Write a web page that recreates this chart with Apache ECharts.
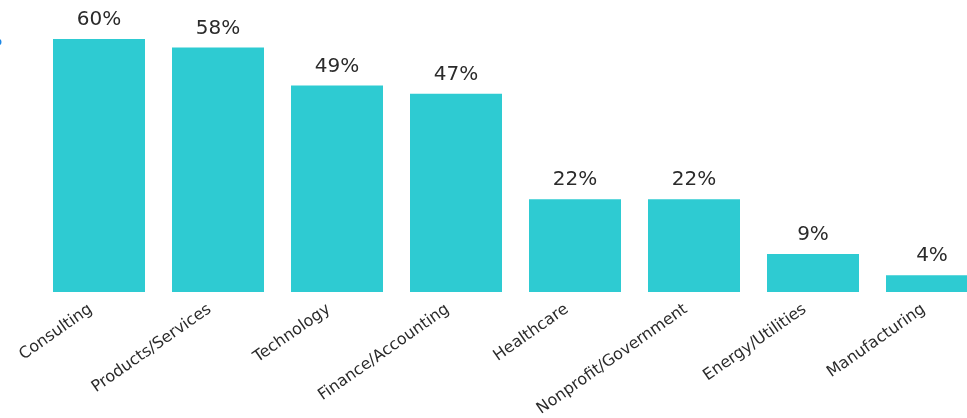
<!DOCTYPE html>
<html>
<head>
<meta charset="utf-8">
<script src="https://cdn.jsdelivr.net/npm/echarts@6/dist/echarts.min.js"></script>
<style>html,body{margin:0;padding:0;background:#fff;}#c{width:967px;height:418px;}</style>
</head>
<body>
<div id="c"></div>
<script>
const categories = ['Consulting','Products/Services','Technology','Finance/Accounting','Healthcare','Nonprofit/Government','Energy/Utilities','Manufacturing'];
const values = [60, 58, 49, 47, 22, 22, 9, 4];

const chart = echarts.init(document.getElementById('c'), null, {renderer:'canvas'});
chart.setOption({
  animation: false,
  grid: { left: 39.5, width: 952, top: 39, bottom: 126, containLabel: false, outerBoundsMode: 'none' },
  xAxis: {
    type: 'category',
    data: categories,
    axisLine: { show: false },
    axisTick: { show: false },
    axisLabel: {
      rotate: 35,
      interval: 0,
      margin: 10,
      padding: [0, 10, 0, 0],
      color: '#2b2b2b',
      fontFamily: 'DejaVu Sans',
      fontSize: 16
    }
  },
  yAxis: {
    type: 'value', min: 0, max: 60,
    show: false,
    splitLine: { show: false }
  },
  series: [{
    type: 'bar',
    data: values,
    barWidth: 92,
    itemStyle: { color: '#2ECBD2' },
    label: {
      show: true,
      position: 'top',
      distance: 9,
      formatter: '{c}%',
      color: '#2b2b2b',
      fontFamily: 'DejaVu Sans',
      fontSize: 20
    }
  }],
  graphic: [{
    type: 'circle', shape: { cx: -2, cy: 42, r: 3.5 }, style: { fill: '#1E88E5' }
  }]
});
</script>
</body>
</html>
